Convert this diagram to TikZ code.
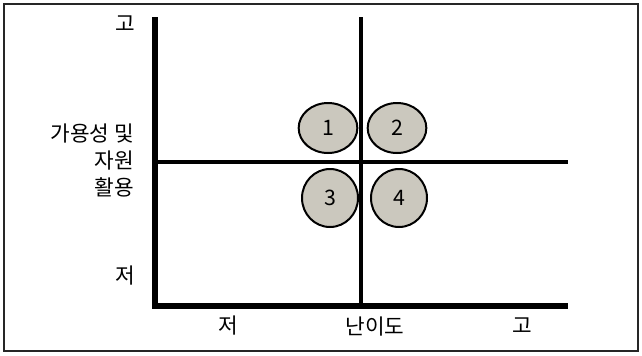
\documentclass[tikz,border=0pt]{standalone}
\usepackage{fontspec}
\setmainfont{Noto Sans CJK KR}
\usetikzlibrary{shapes.geometric}
\definecolor{quadfill}{RGB}{203,200,190}

\begin{document}
\begin{tikzpicture}[
    x=0.75pt, y=-0.75pt,
    frame/.style={draw=black!85, line width=1.3pt},
    axis/.style={line width=5.2pt, line join=miter},
    divider/.style={line width=2.4pt},
    quad/.style={ellipse, draw, line width=1.5pt, fill=quadfill, inner sep=0pt, font=\fontsize{16}{18}\selectfont},
    upper/.style={quad, minimum width=44pt, minimum height=37.5pt},
    lower/.style={quad, minimum width=42pt, minimum height=43.5pt},
    label/.style={font=\fontsize{16}{20.25}\selectfont, inner sep=0pt}
]
    \useasboundingbox (0,0) rectangle (642,355);
    \draw[frame] (4,4) rectangle (638,351);

    \coordinate (top) at (155,17);
    \coordinate (origin) at (155,306);
    \coordinate (right) at (568,306);
    \coordinate (midtop) at (361,17);
    \coordinate (midbot) at (361,306);
    \coordinate (midleft) at (155,162);
    \coordinate (midright) at (568,162);

    \draw[divider] (midtop) -- (midbot);
    \draw[divider] (midleft) -- (midright);
    \draw[axis] (top) -- (origin) -- (right);

    \node[upper] (q1) at (328,128) {1};
    \node[upper] (q2) at (397,128) {2};
    \node[lower] (q3) at (330,198) {3};
    \node[lower] (q4) at (399,198) {4};

    \node[label] (yhigh) at (125,24) {고};
    \node[label, align=right, anchor=east] (ylabel) at (134,160) {가용성 및\\자원\\활용};
    \node[label] (ylow) at (125,276) {저};
    \node[label] (xlow) at (228,326) {저};
    \node[label] (xlabel) at (375,327) {난이도};
    \node[label] (xhigh) at (522,326) {고};
\end{tikzpicture}
\end{document}
